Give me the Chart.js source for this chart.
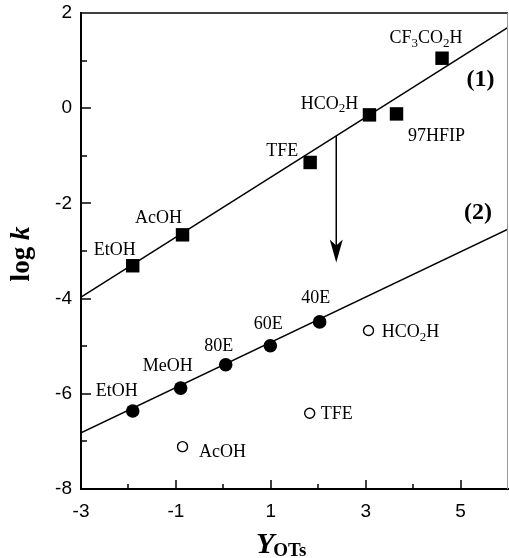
<!DOCTYPE html>
<html>
<head>
<meta charset="utf-8">
<script src="https://cdn.jsdelivr.net/npm/chart.js@4.4.1/dist/chart.umd.min.js"></script>
<style>
html,body{margin:0;padding:0;background:#fff;}
#wrap{width:509px;height:558px;position:relative;}
</style>
</head>
<body>
<div id="wrap"><canvas id="c" width="509" height="558"></canvas></div>
<script>
// ---- data ----
const xTickLabels = [-3, -1, 1, 3, 5];
const yTickLabels = [2, 0, -2, -4, -6, -8];

const set1X = [-1.91, -0.86, 1.83, 3.08, 3.65, 4.61];
const set1Y = [-3.31, -2.66, -1.14, -0.14, -0.12, 1.05];
const set1Labels = ['EtOH', 'AcOH', 'TFE', 'HCO_2H', '97HFIP', 'CF_3CO_2H'];

const set2X = [-1.91, -0.90, 0.05, 0.99, 2.03];
const set2Y = [-6.36, -5.88, -5.39, -4.99, -4.49];
const set2Labels = ['EtOH', 'MeOH', '80E', '60E', '40E'];

const openX = [-0.86, 1.82, 3.06];
const openY = [-7.11, -6.41, -4.67];
const openLabels = ['AcOH', 'TFE', 'HCO_2H'];

const fitX = [-3, 6];
const fit1Y = [-3.97, 1.70];
const fit2Y = [-6.82, -2.54];

const arrowX = [2.38, 2.38];
const arrowY = [-0.58, -3.24];

const seriesNames = ['(1)', '(2)'];
const seriesNameAt = [[5.42, 0.6], [5.37, -2.2]];

// ---- label offsets (pixels, label centre relative to its point) ----
const set1Off = [[-18,-15],[-24,-17],[-28,-11],[-40,-11],[40,22],[-16,-20]];
const set2Off = [[-16,-20],[-13,-22],[-7,-18],[-2,-21],[-4,-24]];
const openOff = [[40,6],[27,1],[42,2]];

const SERIF = '"Liberation Serif", "Times New Roman", serif';
const SANS = '"Liberation Sans", Arial, sans-serif';

function pts(xs, ys){ return xs.map((x,i)=>({x:x, y:ys[i]})); }

function drawRich(ctx, text, cx, cy, size, bold){
  const segs = [];
  for (let i=0;i<text.length;i++){
    if (text[i]==='_' && i+1<text.length){ segs.push({t:text[i+1], sub:true}); i++; }
    else {
      if (segs.length && !segs[segs.length-1].sub) segs[segs.length-1].t += text[i];
      else segs.push({t:text[i], sub:false});
    }
  }
  const w = (b, s) => (b?'bold ':'') + s + 'px ' + SERIF;
  let total = 0;
  segs.forEach(s=>{ ctx.font = w(bold, s.sub? Math.round(size*0.7):size); s.w = ctx.measureText(s.t).width; total += s.w; });
  let x = cx - total/2;
  ctx.textBaseline = 'middle';
  ctx.textAlign = 'left';
  segs.forEach(s=>{
    ctx.font = w(bold, s.sub? Math.round(size*0.7):size);
    ctx.fillText(s.t, x, s.sub ? cy + size*0.28 : cy);
    x += s.w;
  });
}

const decor = {
  id: 'decor',
  afterDatasetsDraw(chart){
    const ctx = chart.ctx;
    const xs = chart.scales.x, ys = chart.scales.y;
    const ca = chart.chartArea;
    ctx.save();
    ctx.strokeStyle = '#000'; ctx.lineWidth = 1.5;
    ctx.beginPath(); ctx.moveTo(ca.left, ca.top); ctx.lineTo(ca.right, ca.top); ctx.stroke();
    ctx.strokeStyle = '#9a9a9a'; ctx.lineWidth = 1;
    ctx.beginPath(); ctx.moveTo(ca.right-0.5, ca.top); ctx.lineTo(ca.right-0.5, ca.bottom); ctx.stroke();
    ctx.strokeStyle = '#000'; ctx.lineWidth = 1.5;
    for (let v = -2; v <= 5; v++){
      const px = Math.round(xs.getPixelForValue(v));
      const len = xTickLabels.includes(v) ? 9 : 5;
      ctx.beginPath(); ctx.moveTo(px, ca.bottom); ctx.lineTo(px, ca.bottom - len); ctx.stroke();
    }
    for (let v = -7; v <= 1; v++){
      const py = Math.round(ys.getPixelForValue(v));
      const len = yTickLabels.includes(v) ? 10 : 6;
      ctx.beginPath(); ctx.moveTo(ca.left, py); ctx.lineTo(ca.left + len, py); ctx.stroke();
    }
    const ax = xs.getPixelForValue(arrowX[1]);
    const ay = ys.getPixelForValue(arrowY[1]);
    ctx.fillStyle = '#000';
    ctx.beginPath(); ctx.moveTo(ax, ay); ctx.lineTo(ax-6.5, ay-23); ctx.lineTo(ax, ay-17); ctx.lineTo(ax+6.5, ay-23); ctx.closePath(); ctx.fill();
    const put = (X, Y, L, O) => X.forEach((x,i)=>{
      drawRich(ctx, L[i], xs.getPixelForValue(x)+O[i][0], ys.getPixelForValue(Y[i])+O[i][1], 18, false);
    });
    put(set1X, set1Y, set1Labels, set1Off);
    put(set2X, set2Y, set2Labels, set2Off);
    put(openX, openY, openLabels, openOff);
    seriesNames.forEach((n,i)=>{
      drawRich(ctx, n, xs.getPixelForValue(seriesNameAt[i][0]), ys.getPixelForValue(seriesNameAt[i][1]), 24, true);
    });
    ctx.textBaseline = 'alphabetic'; ctx.textAlign = 'left';
    ctx.save();
    ctx.translate(29, 254);
    ctx.rotate(-Math.PI/2);
    ctx.font = 'bold 27px ' + SERIF;
    const w1 = ctx.measureText('log ').width;
    ctx.font = 'italic bold 27px ' + SERIF;
    const w2 = ctx.measureText('k').width;
    const sx = -(w1+w2)/2;
    ctx.font = 'bold 27px ' + SERIF;
    ctx.fillText('log ', sx, 0);
    ctx.font = 'italic bold 27px ' + SERIF;
    ctx.fillText('k', sx + w1, 0);
    ctx.restore();
    ctx.font = 'italic bold 30px ' + SERIF;
    const wy = ctx.measureText('Y').width;
    ctx.fillText('Y', 256, 553);
    ctx.font = 'bold 19px ' + SERIF;
    ctx.fillText('OTs', 256 + wy - 1, 556);
    ctx.restore();
  }
};

new Chart(document.getElementById('c'), {
  type: 'scatter',
  data: {
    datasets: [
      { data: pts(fitX, fit1Y), showLine: true, borderColor: '#000', borderWidth: 1.5, pointRadius: 0, order: 5 },
      { data: pts(fitX, fit2Y), showLine: true, borderColor: '#000', borderWidth: 1.5, pointRadius: 0, order: 5 },
      { data: pts(arrowX, [arrowY[0], arrowY[1] + 0.3]), showLine: true, borderColor: '#000', borderWidth: 1.5, pointRadius: 0, order: 5 },
      { data: pts(set1X, set1Y), pointStyle: 'rect', pointRadius: 9.5, backgroundColor: '#000', borderColor: '#000', borderWidth: 0, order: 1 },
      { data: pts(set2X, set2Y), pointStyle: 'circle', pointRadius: 6.8, backgroundColor: '#000', borderColor: '#000', borderWidth: 0, order: 1 },
      { data: pts(openX, openY), pointStyle: 'circle', pointRadius: 5, backgroundColor: '#fff', borderColor: '#000', borderWidth: 1.4, order: 1 }
    ]
  },
  options: {
    responsive: false,
    animation: false,
    events: [],
    layout: { autoPadding: false, padding: { top: 13, right: 1, left: 0, bottom: 0 } },
    plugins: { legend: { display: false }, tooltip: { enabled: false } },
    scales: {
      x: {
        type: 'linear', min: -3, max: 6,
        grid: { display: false, drawTicks: false },
        border: { display: true, color: '#000', width: 2 },
        ticks: {
          stepSize: 1, padding: 11, color: '#000', maxRotation: 0, autoSkip: false,
          font: { family: SANS, size: 19 },
          callback: v => xTickLabels.includes(v) ? String(v) : ''
        },
        afterFit: s => { s.height = 69; s.paddingLeft = 0; s.paddingRight = 0; }
      },
      y: {
        type: 'linear', min: -8, max: 2,
        grid: { display: false, drawTicks: false },
        border: { display: true, color: '#000', width: 2 },
        ticks: {
          stepSize: 1, padding: 9, color: '#000', autoSkip: false,
          font: { family: SANS, size: 19 },
          callback: v => yTickLabels.includes(v) ? String(v) : ''
        },
        afterFit: s => { s.width = 81; s.paddingTop = 0; s.paddingBottom = 0; }
      }
    }
  },
  plugins: [decor]
});
</script>
</body>
</html>
